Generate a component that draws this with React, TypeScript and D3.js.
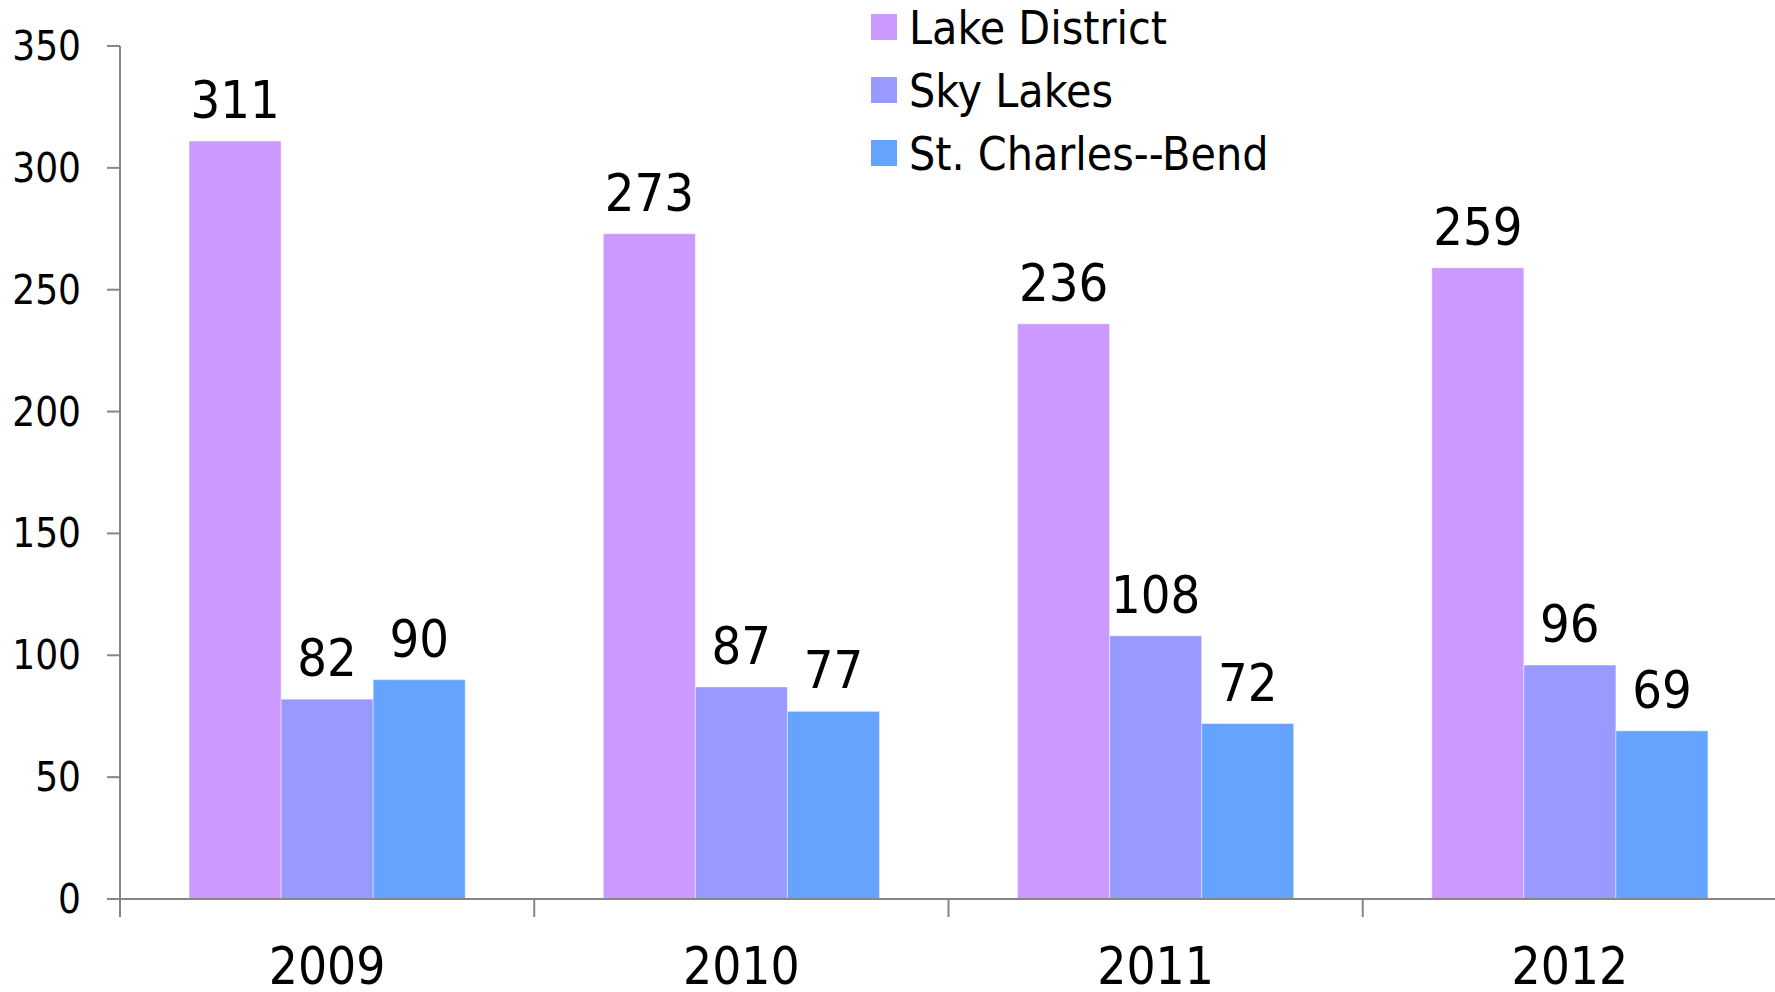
import React from "react";
import * as d3 from "d3";

const years = ["2009", "2010", "2011", "2012"];
const seriesNames = ["Lake District", "Sky Lakes", "St. Charles--Bend"];
const lakeDistrict = [311, 273, 236, 259];
const skyLakes = [82, 87, 108, 96];
const stCharles = [90, 77, 72, 69];
const seriesColors = ["#CC99FF", "#9999FF", "#66A3FF"];
const yTicks = [0, 50, 100, 150, 200, 250, 300, 350];

const W = 1775;
const H = 992;
const FONT = "'DejaVu Sans Condensed', 'DejaVu Sans', sans-serif";

export default function App() {
  const seriesValues = [lakeDistrict, skyLakes, stCharles];
  const x0 = d3.scaleBand<string>().domain(years).range([120, 1777]).paddingInner(0).paddingOuter(0);
  const x1 = d3
    .scaleBand<string>()
    .domain(seriesNames)
    .range([0, x0.bandwidth()])
    .paddingInner(0)
    .paddingOuter(0.75);
  const y = d3.scaleLinear().domain([0, 350]).range([899, 46]);
  const axisColor = "#868686";

  return (
    <svg
      width={W}
      height={H}
      style={{ position: "absolute", left: 0, top: 0, display: "block", background: "#fff" }}
      fontFamily={FONT}
    >
      {/* bars */}
      {years.map((yr, i) => (
        <g key={yr} transform={`translate(${x0(yr)},0)`}>
          {seriesNames.map((s, j) => {
            const v = seriesValues[j][i];
            const bx = x1(s)!;
            const bw = x1.bandwidth();
            return (
              <g key={s}>
                <rect
                  x={bx}
                  y={y(v)}
                  width={bw}
                  height={y(0) - y(v)}
                  fill={seriesColors[j]}
                  stroke="rgba(255,255,255,0.45)"
                  strokeWidth={1}
                />
                <text
                  x={bx + bw / 2}
                  y={y(v) - 23}
                  textAnchor="middle"
                  fontSize={52}
                  fill="#000"
                >
                  {v}
                </text>
              </g>
            );
          })}
        </g>
      ))}

      {/* y axis */}
      <line x1={120} x2={120} y1={y(350)} y2={y(0) + 18} stroke={axisColor} strokeWidth={2} />
      {yTicks.map((t) => (
        <g key={t}>
          <line x1={107} x2={120} y1={y(t)} y2={y(t)} stroke={axisColor} strokeWidth={2} />
          <text x={81} y={y(t) + 14} textAnchor="end" fontSize={40} fill="#000">
            {t}
          </text>
        </g>
      ))}

      {/* x axis */}
      <line x1={107} x2={W} y1={y(0)} y2={y(0)} stroke={axisColor} strokeWidth={2} />
      {years.map((yr) => (
        <line
          key={"t" + yr}
          x1={x0(yr)!}
          x2={x0(yr)!}
          y1={y(0)}
          y2={y(0) + 18}
          stroke={axisColor}
          strokeWidth={2}
        />
      ))}
      {years.map((yr) => (
        <text
          key={"l" + yr}
          x={x0(yr)! + x0.bandwidth() / 2}
          y={984}
          textAnchor="middle"
          fontSize={51}
          fill="#000"
        >
          {yr}
        </text>
      ))}

      {/* legend */}
      {seriesNames.map((s, j) => (
        <g key={"lg" + s} transform={`translate(871, ${14 + j * 63})`}>
          <rect x={0} y={0} width={26} height={26} fill={seriesColors[j]} />
          <text x={38} y={30} fontSize={46} fill="#000">
            {s}
          </text>
        </g>
      ))}
    </svg>
  );
}
